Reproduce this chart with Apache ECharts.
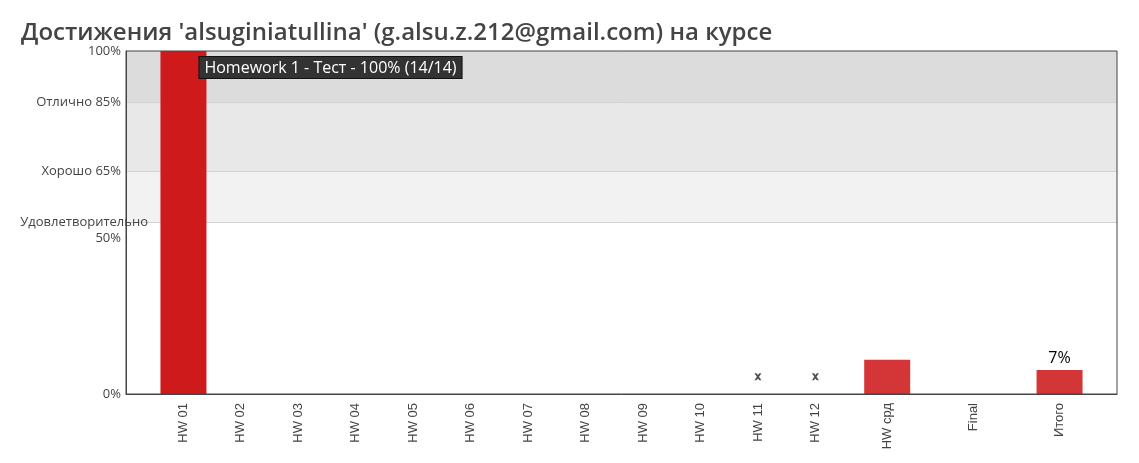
<!DOCTYPE html>
<html><head><meta charset="utf-8">
<script src="https://cdn.jsdelivr.net/npm/echarts@6/dist/echarts.min.js"></script>
<style>html,body{margin:0;padding:0;background:#fff}#c{width:1139px;height:463px}</style>
</head><body><div id="c"></div>
<script>
const titleText = "Достижения 'alsuginiatullina' (g.alsu.z.212@gmail.com) на курсе";
const categories = ['HW 01','HW 02','HW 03','HW 04','HW 05','HW 06','HW 07','HW 08','HW 09','HW 10','HW 11','HW 12','HW срд','Final','Итого'];
const catSlots = [1,2,3,4,5,6,7,8,9,10,11,12,13.25,14.75,16.25];
const scores = [100,0,0,0,0,0,0,0,0,0,0,0,10,0,7];
const pendingMarks = [null,null,null,null,null,null,null,null,null,null,5,5,null,null,null];
const hwNote = 'Homework 1 - Тест - 100% (14/14)';
const totalNote = '7%';
const bandEdges = [50,65,85,100];
const yTickValues = [0,50,65,85,100];
const yTickLabels = ['0%','Удовлетворительно\n50%','Хорошо 65%','Отлично 85%','100%'];

const bandColors = ['#f2f2f2','#e8e8e8','#dcdcdc'];
const font = '"Open Sans", sans-serif';

const barData = scores.map((v,i) => {
  const item = {value:[catSlots[i], v], itemStyle:{color: i < 12 ? '#ce1a1b' : '#d43536'}};
  if (i === 0) item.label = {show:true, formatter: hwNote, position:[39,6], color:'#fff', fontSize:16, fontFamily:font,
      backgroundColor:'#333', borderColor:'#111', borderWidth:1, padding:[3,5,2,5]};
  if (i === 14) item.label = {show:true, formatter: totalNote, position:'top', distance:4, color:'#000', fontSize:16, fontFamily:font};
  return item;
});
const markData = pendingMarks.map((v,i)=> v==null?null:[catSlots[i], v]).filter(d=>d);

const chart = echarts.init(document.getElementById('c'), null, {renderer:'canvas'});
chart.setOption({
  animation:false,
  title:{text:titleText, left:21, top:21, padding:0, textStyle:{fontFamily:font, fontSize:24, fontWeight:600, color:'#444'}},
  grid:{left:126, right:22, top:51, bottom:69, show:true, borderColor:'#444', borderWidth:1, backgroundColor:'transparent', z:10},
  xAxis:{type:'value', min:0, max:17.25, z:10,
    axisLine:{show:true, lineStyle:{color:'#444'}}, axisTick:{show:false}, splitLine:{show:false},
    axisLabel:{customValues:catSlots, rotate:90, margin:9, color:'#444', fontSize:13, fontFamily:'"Liberation Sans", Arial, sans-serif',
      formatter:(v)=>{const i=catSlots.indexOf(v); return i<0?'':categories[i];}}},
  yAxis:{type:'value', min:0, max:100, interval:5, z:10,
    axisLine:{show:true, lineStyle:{color:'#444'}}, axisTick:{show:false}, splitLine:{show:false},
    axisLabel:{customValues:yTickValues, margin:-22, color:'#444', fontSize:13, fontFamily:font,
      formatter:(v)=>{const i=yTickValues.indexOf(v); if(i<0) return ''; const parts=yTickLabels[i].split('\n');
        return parts.length>1 ? '{e| }\n{u|'+parts[0]+'}\n{p|'+parts[1]+'}' : '{p|'+parts[0]+'}';},
      rich:{e:{align:'right', color:'#444', fontSize:13, fontFamily:font, lineHeight:16},
            u:{align:'right', color:'#444', fontSize:13, fontFamily:font, lineHeight:16},
            p:{align:'right', padding:[0,27,0,0], color:'#444', fontSize:13, fontFamily:font, lineHeight:16}}}},
  series:[
    {type:'scatter', name:'bands', data:[], z:0, silent:true,
      markArea:{silent:true, z:0, data: bandColors.map((c,i)=>[{yAxis:bandEdges[i], itemStyle:{color:c}},{yAxis:bandEdges[i+1]}])},
      markLine:{silent:true, z:1, symbol:'none', label:{show:false}, lineStyle:{color:'#d2d2d2', type:'solid', width:1},
        data: bandEdges.slice(0,3).map(v=>({yAxis:v}))}},
    {type:'bar', name:'scores', data:barData, barWidth:46, z:2},
    {type:'scatter', name:'pending', data:markData, z:3, symbol:'path://M0,0 L3,0 L5,2.5 L7,0 L10,0 L6.5,5 L10,10 L7,10 L5,7.5 L3,10 L0,10 L3.5,5 Z', symbolSize:7, itemStyle:{color:'#222'}}
  ]
});
</script></body></html>
